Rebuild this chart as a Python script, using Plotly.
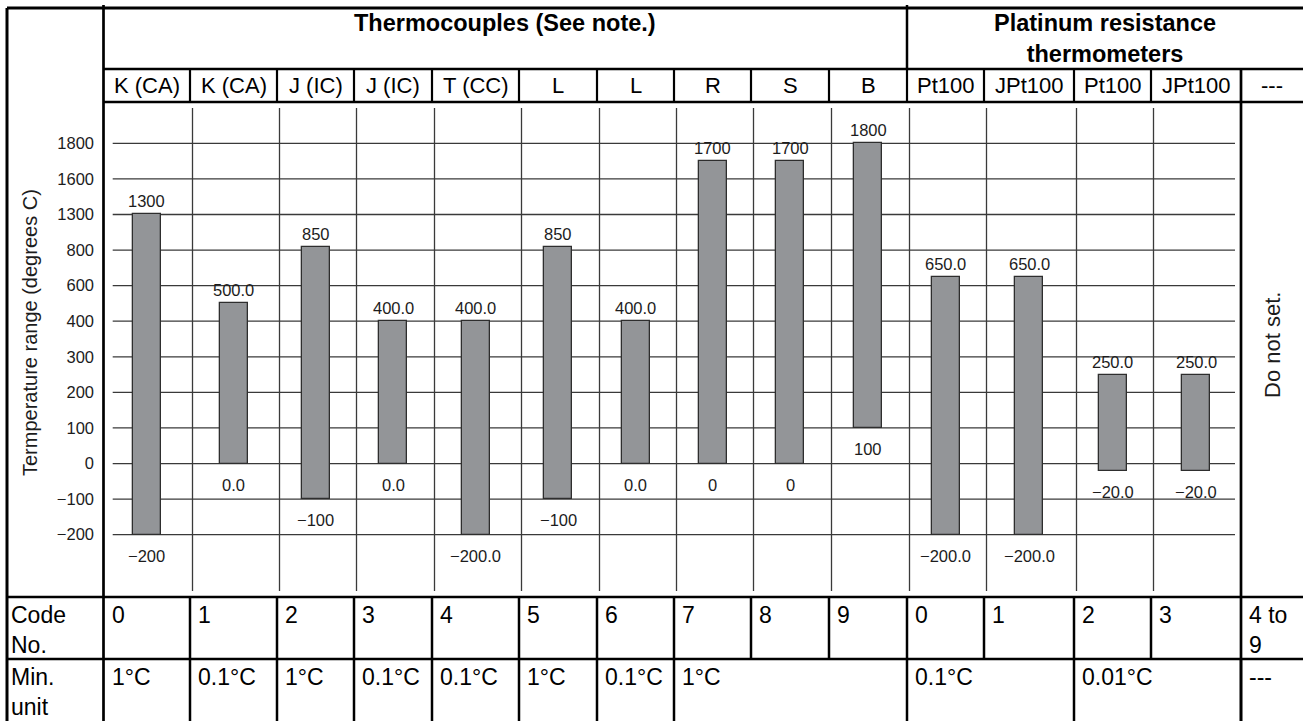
import numpy as np
import plotly.graph_objects as go

# ---------------- data ----------------
sensor_types = ["K (CA)", "K (CA)", "J (IC)", "J (IC)", "T (CC)", "L", "L", "R", "S", "B",
                "Pt100", "JPt100", "Pt100", "JPt100"]
range_high = [1300, 500.0, 850, 400.0, 400.0, 850, 400.0, 1700, 1700, 1800,
              650.0, 650.0, 250.0, 250.0]
range_low = [-200, 0.0, -100, 0.0, -200.0, -100, 0.0, 0, 0, 100,
             -200.0, -200.0, -20.0, -20.0]
label_decimals = [0, 1, 0, 1, 1, 0, 1, 0, 0, 0, 1, 1, 1, 1]
code_numbers = ["0", "1", "2", "3", "4", "5", "6", "7", "8", "9",
                "0", "1", "2", "3", "4 to<br>9"]
min_units = ["1°C", "0.1°C", "1°C", "0.1°C", "0.1°C", "1°C", "0.1°C", "1°C",
             "0.1°C", "0.01°C", "---"]
min_unit_spans = [1, 1, 1, 1, 1, 1, 1, 3, 2, 2, 1]
group_titles = ["<b>Thermocouples (See note.)</b>",
                "<b>Platinum resistance<br>thermometers</b>"]
group_spans = [10, 5]
axis_ticks = [-200, -100, 0, 100, 200, 300, 400, 600, 800, 1300, 1600, 1800]
unused_label = "---"
unused_note = "Do not set."
y_title = "Termperature range (degrees C)"

# ---------------- layout geometry (pixels) ----------------
W, H = 1303, 721
FONT = "Liberation Sans, Arial, Helvetica, sans-serif"
LEFT = 7
col_edges = [103.5, 190, 277, 354, 432, 519, 597, 674, 751, 829, 907, 984,
             1074, 1151, 1241, 1303]
ROW_TOP, ROW1_B, ROW2_B, CHART_B, CODE_B = 8, 69, 102, 597, 659
TICK_PX0, TICK_STEP = 534.7, 35.58   # pixel row of first tick, spacing of ticks
GRID_X0, GRID_X1 = 112.7, 1235
GRID_Y0, GRID_Y1 = 108, 591
GRID_SHIFT = 2.5
BAR_W = 28

BLACK = "#000000"
GRID = "#3a3a3a"
TEXT = "#1c1c1c"


def py(p):
    return 1 - p / H


def scale(v):
    # ticks are drawn evenly spaced, values are placed piecewise between them
    return float(np.interp(v, axis_ticks, np.arange(len(axis_ticks))))


def fmt(v, d):
    s = f"{abs(v):.{d}f}"
    return ("\u2212" if v < 0 else "") + s


def tick_text(v):
    return ("\u2212" if v < 0 else "") + str(abs(v))


centers = [(col_edges[i] + col_edges[i + 1]) / 2 for i in range(len(col_edges) - 1)]
bar_x = centers[:len(sensor_types)]
bar_base = [scale(lo) for lo in range_low]
bar_len = [scale(hi) - scale(lo) for hi, lo in zip(range_high, range_low)]

fig = go.Figure()
fig.add_trace(go.Bar(
    x=bar_x, y=bar_len, base=bar_base, width=BAR_W,
    marker=dict(color="#939598", line=dict(color="#2e2e2e", width=1.3)),
    hoverinfo="skip", showlegend=False,
))

shapes = []


def hline(y, x0, x1, w=2.5, color=BLACK):
    shapes.append(dict(type="line", xref="x", yref="paper", x0=x0, x1=x1,
                       y0=py(y), y1=py(y), line=dict(color=color, width=w), layer="above"))


def vline(x, y0, y1, w=2.5, color=BLACK):
    shapes.append(dict(type="line", xref="x", yref="paper", x0=x, x1=x,
                       y0=py(y0), y1=py(y1), line=dict(color=color, width=w), layer="above"))


# chart grid (drawn below the bars)
for i in range(len(axis_ticks)):
    shapes.append(dict(type="line", xref="x", yref="y", x0=GRID_X0, x1=GRID_X1,
                       y0=i, y1=i, line=dict(color=GRID, width=1.3), layer="below"))
for e in col_edges[1:-2]:
    shapes.append(dict(type="line", xref="x", yref="paper", x0=e + GRID_SHIFT, x1=e + GRID_SHIFT,
                       y0=py(GRID_Y0), y1=py(GRID_Y1), line=dict(color=GRID, width=1.3),
                       layer="below"))

# table frame
hline(ROW_TOP, LEFT, W, 3)
hline(ROW1_B, col_edges[0], W)
hline(ROW2_B, col_edges[0], W, 2.7)
hline(CHART_B, LEFT, W, 2.7)
hline(CODE_B, LEFT, W, 2.7)
vline(LEFT, ROW_TOP, H, 3)
vline(col_edges[0], 5, H, 2.7)
vline(col_edges[-2], ROW1_B, H, 2.7)
# group separator in the top row
acc = 0
for span in group_spans[:-1]:
    acc += span
    vline(col_edges[acc], 5, ROW1_B, 2.5)
# sensor-name row and code row separators
for e in col_edges[1:-2]:
    vline(e, ROW1_B, ROW2_B, 2.2)
    vline(e, CHART_B, CODE_B, 2.5)
# min-unit row separators follow the merged cells
acc = 0
for span in min_unit_spans[:-1]:
    acc += span
    vline(col_edges[acc], CODE_B, H, 2.5)

ann = []


def text(x, y, s, size=22, xanchor="center", yanchor="middle", bold=False,
         xref="x", yref="paper", angle=0, align="center", color=TEXT, yshift=0):
    ann.append(dict(x=x, y=y, xref=xref, yref=yref, text=s, showarrow=False,
                    xanchor=xanchor, yanchor=yanchor, textangle=angle, align=align,
                    yshift=yshift,
                    font=dict(family=FONT, size=size, color=color)))


# group titles
acc = 0
for title, span in zip(group_titles, group_spans):
    x0, x1 = col_edges[acc], col_edges[acc + span]
    acc += span
    text((x0 + x1) / 2, py(8), title, size=23.5, yanchor="top", color="#000")

# sensor names
for c, name in zip(centers, sensor_types + [unused_label]):
    text(c, py(86), name, size=22, color="#000")

# y-axis title and unused-column note
text(30, py(333), y_title, size=20, angle=-90)
text(centers[-1], py(345), unused_note, size=22, angle=-90)

# bar end labels
for x, hi, lo, d in zip(bar_x, range_high, range_low, label_decimals):
    text(x, scale(hi), fmt(hi, d), size=16.5, yref="y", yanchor="bottom", yshift=2)
    text(x, scale(lo), fmt(lo, d), size=16.5, yref="y", yanchor="top", yshift=-10)

# code number row
BOTTOM_SIZE = 23
text(LEFT + 2, py(CHART_B + 3), "Code<br>No.", size=BOTTOM_SIZE, xanchor="left",
     yanchor="top", align="left", color="#000")
for e, s in zip(col_edges[:-1], code_numbers):
    text(e + 6, py(CHART_B + 3), s, size=BOTTOM_SIZE, xanchor="left", yanchor="top",
         align="left", color="#000")

# minimum unit row
text(LEFT + 2, py(CODE_B + 3), "Min.<br>unit", size=BOTTOM_SIZE, xanchor="left",
     yanchor="top", align="left", color="#000")
acc = 0
for s, span in zip(min_units, min_unit_spans):
    text(col_edges[acc] + 6, py(CODE_B + 3), s, size=BOTTOM_SIZE, xanchor="left",
         yanchor="top", align="left", color="#000")
    acc += span

fig.update_layout(
    width=W, height=H, autosize=False,
    margin=dict(l=0, r=0, t=0, b=0, pad=0),
    paper_bgcolor="white", plot_bgcolor="white",
    shapes=shapes, annotations=ann, showlegend=False, bargap=0,
    xaxis=dict(range=[0, W], domain=[0, 1], visible=False, fixedrange=True),
    yaxis=dict(
        range=[-(H - TICK_PX0) / TICK_STEP, TICK_PX0 / TICK_STEP],
        domain=[0, 1], anchor="free", position=94 / W,
        tickmode="array", tickvals=list(range(len(axis_ticks))),
        ticktext=[tick_text(v) for v in axis_ticks],
        ticks="", showgrid=False, zeroline=False, showline=False,
        tickfont=dict(family=FONT, size=16.5, color=TEXT), fixedrange=True,
    ),
)

fig.write_html("out.html")
